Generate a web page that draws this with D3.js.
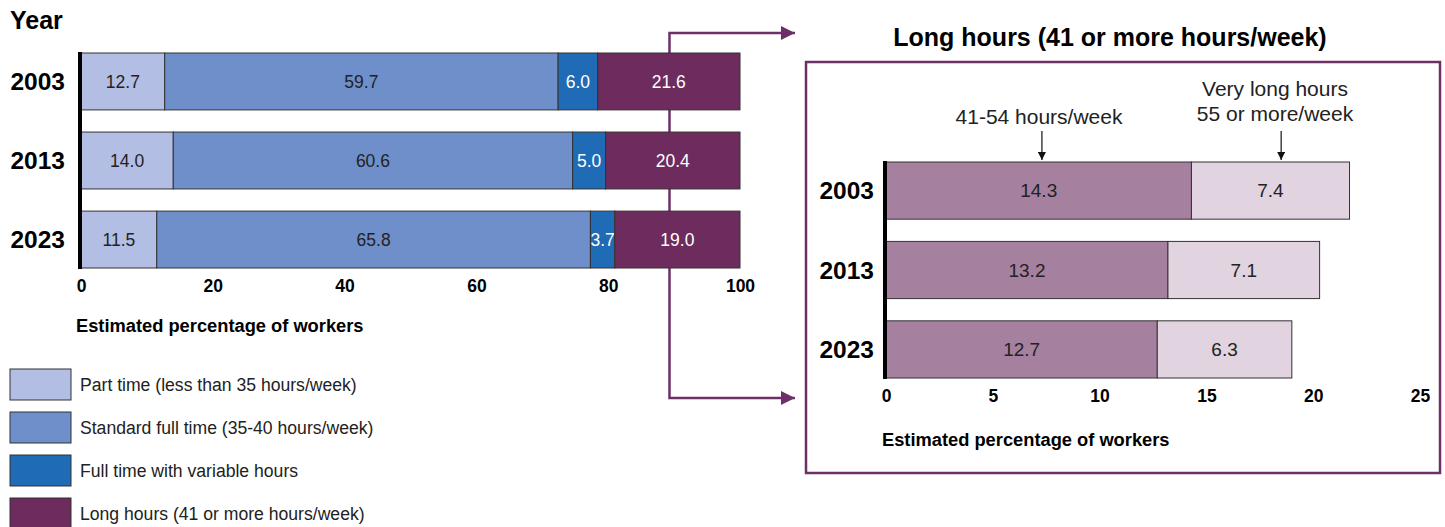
<!DOCTYPE html>
<html lang="en">
<head>
    <meta charset="UTF-8">
    <title>Hours worked</title>
    <style>
        body { margin: 0; background: #fff; }
        text { font-family: "Liberation Sans", Arial, sans-serif; }
    </style>
    <script src="https://d3js.org/d3.v7.min.js"></script>
</head>
<body>
    <svg width="1445" height="527"></svg>
    <script>
        // Data
        const years = ["2003", "2013", "2023"];
        const categories = [
            "Part time (less than 35 hours/week)",
            "Standard full time (35-40 hours/week)",
            "Full time with variable hours",
            "Long hours (41 or more hours/week)"
        ];
        const partTime = [12.7, 14.0, 11.5];
        const standardFull = [59.7, 60.6, 65.8];
        const variableHours = [6.0, 5.0, 3.7];
        const longHours = [21.6, 20.4, 19.0];

        const longCategories = ["41-54 hours/week", "Very long hours"];
        const hours41to54 = [14.3, 13.2, 12.7];
        const hours55plus = [7.4, 7.1, 6.3];

        const leftTicks = [0, 20, 40, 60, 80, 100];
        const rightTicks = [0, 5, 10, 15, 20, 25];

        const colors = ["#b2bee3", "#6f8fca", "#1f6bb5", "#6d2c5d"];
        const labelColors = ["#222", "#222", "#fff", "#fff"];
        const longColors = ["#a6809f", "#e1d3df"];
        const purple = "#6d3066";

        const svg = d3.select("svg");

        // arrow markers for the connectors and annotations
        const defs = svg.append("defs");
        defs.append("marker")
            .attr("id", "arrowP")
            .attr("viewBox", "0 0 10 10")
            .attr("refX", 10).attr("refY", 5)
            .attr("markerWidth", 14).attr("markerHeight", 14)
            .attr("markerUnits", "userSpaceOnUse")
            .attr("orient", "auto")
            .append("path").attr("d", "M0,0L10,5L0,10Z").attr("fill", purple);
        defs.append("marker")
            .attr("id", "arrowK")
            .attr("viewBox", "0 0 10 10")
            .attr("refX", 10).attr("refY", 5)
            .attr("markerWidth", 8).attr("markerHeight", 8)
            .attr("markerUnits", "userSpaceOnUse")
            .attr("orient", "auto")
            .append("path").attr("d", "M0,0L10,5L0,10Z").attr("fill", "#111");

        // ---------- left chart ----------
        const x = d3.scaleLinear().domain([0, 100]).range([81, 740]);
        const y = d3.scaleBand().domain(years).range([53, 268]).paddingInner(0.28);

        const series = [partTime, standardFull, variableHours, longHours];
        const rows = years.map((yr, i) => {
            const o = { year: yr };
            categories.forEach((c, k) => o[c] = series[k][i]);
            return o;
        });
        const stacked = d3.stack().keys(categories)(rows);

        // connector, drawn behind the bars
        const cx = x(89.3);
        svg.append("path")
            .attr("d", `M${cx},${y("2023") + y.bandwidth()}V398H795`)
            .attr("fill", "none").attr("stroke", purple).attr("stroke-width", 2.5)
            .attr("marker-end", "url(#arrowP)");
        svg.append("path")
            .attr("d", `M${cx},${y("2003") + 2}V33H795`)
            .attr("fill", "none").attr("stroke", purple).attr("stroke-width", 2.5)
            .attr("marker-end", "url(#arrowP)");
        svg.append("path")
            .attr("d", `M${cx},${y("2003")}V${y("2023") + y.bandwidth()}`)
            .attr("fill", "none").attr("stroke", purple).attr("stroke-width", 2.5);

        const layer = svg.append("g").selectAll("g")
            .data(stacked).join("g")
            .attr("fill", (d, i) => colors[i]);

        layer.selectAll("rect")
            .data(d => d).join("rect")
            .attr("x", d => x(d[0]))
            .attr("y", d => y(d.data.year))
            .attr("width", d => x(d[1]) - x(d[0]))
            .attr("height", y.bandwidth())
            .attr("stroke", "#333").attr("stroke-width", 1);

        layer.selectAll("text")
            .data(d => d).join("text")
            .attr("x", d => (x(d[0]) + x(d[1])) / 2)
            .attr("y", d => y(d.data.year) + y.bandwidth() / 2)
            .attr("dy", "0.36em")
            .attr("text-anchor", "middle")
            .attr("font-size", 17.5)
            .attr("fill", function () { return labelColors[stacked.indexOf(d3.select(this.parentNode).datum())]; })
            .text(d => (d[1] - d[0]).toFixed(1));

        // y axis line and year labels
        svg.append("line")
            .attr("x1", x(0) - 1).attr("x2", x(0) - 1)
            .attr("y1", y("2003") - 1).attr("y2", y("2023") + y.bandwidth() + 1)
            .attr("stroke", "#000").attr("stroke-width", 4);
        svg.append("g").selectAll("text")
            .data(years).join("text")
            .attr("x", 65)
            .attr("y", d => y(d) + y.bandwidth() / 2)
            .attr("dy", "0.36em")
            .attr("text-anchor", "end")
            .attr("font-size", 24.5).attr("font-weight", "bold")
            .text(d => d);
        svg.append("text")
            .attr("x", 10).attr("y", 29)
            .attr("font-size", 25).attr("font-weight", "bold")
            .text("Year");

        // x axis
        const xAxis = svg.append("g")
            .attr("transform", `translate(0,${y("2023") + y.bandwidth()})`)
            .call(d3.axisBottom(x).tickValues(leftTicks).tickSize(0).tickPadding(12));
        xAxis.select(".domain").remove();
        xAxis.selectAll("text")
            .attr("font-size", 17.5).attr("font-weight", "bold").attr("fill", "#000");
        svg.append("text")
            .attr("x", 76).attr("y", 332)
            .attr("font-size", 18.3).attr("font-weight", "bold")
            .text("Estimated percentage of workers");

        // legend
        const legend = svg.append("g").selectAll("g")
            .data(categories).join("g")
            .attr("transform", (d, i) => `translate(10,${369 + i * 43})`);
        legend.append("rect")
            .attr("width", 61).attr("height", 31)
            .attr("fill", (d, i) => colors[i])
            .attr("stroke", "#333").attr("stroke-width", 1);
        legend.append("text")
            .attr("x", 70).attr("y", 16).attr("dy", "0.36em")
            .attr("font-size", 17.6).attr("fill", "#222")
            .text(d => d);

        // ---------- right panel ----------
        svg.append("rect")
            .attr("x", 806).attr("y", 62)
            .attr("width", 634).attr("height", 411)
            .attr("fill", "none").attr("stroke", purple).attr("stroke-width", 2.5);
        svg.append("text")
            .attr("x", 1110).attr("y", 46)
            .attr("text-anchor", "middle")
            .attr("font-size", 25).attr("font-weight", "bold")
            .text("Long hours (41 or more hours/week)");

        const x2 = d3.scaleLinear().domain([0, 25]).range([886, 1420]);
        const y2 = d3.scaleBand().domain(years).range([162, 378]).paddingInner(0.28);

        const rows2 = years.map((yr, i) => ({ year: yr, [longCategories[0]]: hours41to54[i], [longCategories[1]]: hours55plus[i] }));
        const stacked2 = d3.stack().keys(longCategories)(rows2);

        const layer2 = svg.append("g").selectAll("g")
            .data(stacked2).join("g")
            .attr("fill", (d, i) => longColors[i]);
        layer2.selectAll("rect")
            .data(d => d).join("rect")
            .attr("x", d => x2(d[0]))
            .attr("y", d => y2(d.data.year))
            .attr("width", d => x2(d[1]) - x2(d[0]))
            .attr("height", y2.bandwidth())
            .attr("stroke", "#333").attr("stroke-width", 1);
        layer2.selectAll("text")
            .data(d => d).join("text")
            .attr("x", d => (x2(d[0]) + x2(d[1])) / 2)
            .attr("y", d => y2(d.data.year) + y2.bandwidth() / 2)
            .attr("dy", "0.36em")
            .attr("text-anchor", "middle")
            .attr("font-size", 19).attr("fill", "#222")
            .text(d => (d[1] - d[0]).toFixed(1));

        svg.append("line")
            .attr("x1", x2(0) - 1).attr("x2", x2(0) - 1)
            .attr("y1", y2("2003") - 1).attr("y2", y2("2023") + y2.bandwidth() + 1)
            .attr("stroke", "#000").attr("stroke-width", 4);
        svg.append("g").selectAll("text")
            .data(years).join("text")
            .attr("x", 874)
            .attr("y", d => y2(d) + y2.bandwidth() / 2)
            .attr("dy", "0.36em")
            .attr("text-anchor", "end")
            .attr("font-size", 24.5).attr("font-weight", "bold")
            .text(d => d);

        const xAxis2 = svg.append("g")
            .attr("transform", `translate(0,${y2("2023") + y2.bandwidth()})`)
            .call(d3.axisBottom(x2).tickValues(rightTicks).tickSize(0).tickPadding(12));
        xAxis2.select(".domain").remove();
        xAxis2.selectAll("text")
            .attr("font-size", 17.5).attr("font-weight", "bold").attr("fill", "#000");
        svg.append("text")
            .attr("x", 882).attr("y", 446)
            .attr("font-size", 18.3).attr("font-weight", "bold")
            .text("Estimated percentage of workers");

        // annotations
        const ann = svg.append("g").attr("font-size", 21).attr("fill", "#222").attr("text-anchor", "middle");
        ann.append("text").attr("x", 1039).attr("y", 124).text("41-54 hours/week");
        ann.append("text").attr("x", 1275).attr("y", 96).text("Very long hours");
        ann.append("text").attr("x", 1275).attr("y", 121).text("55 or more/week");
        const arrowX = [x2(7.3), x2(18.5)];
        svg.append("g").selectAll("line")
            .data(arrowX).join("line")
            .attr("x1", d => d).attr("x2", d => d)
            .attr("y1", 131).attr("y2", 160)
            .attr("stroke", "#111").attr("stroke-width", 1.2)
            .attr("marker-end", "url(#arrowK)");
    </script>
</body>
</html>
